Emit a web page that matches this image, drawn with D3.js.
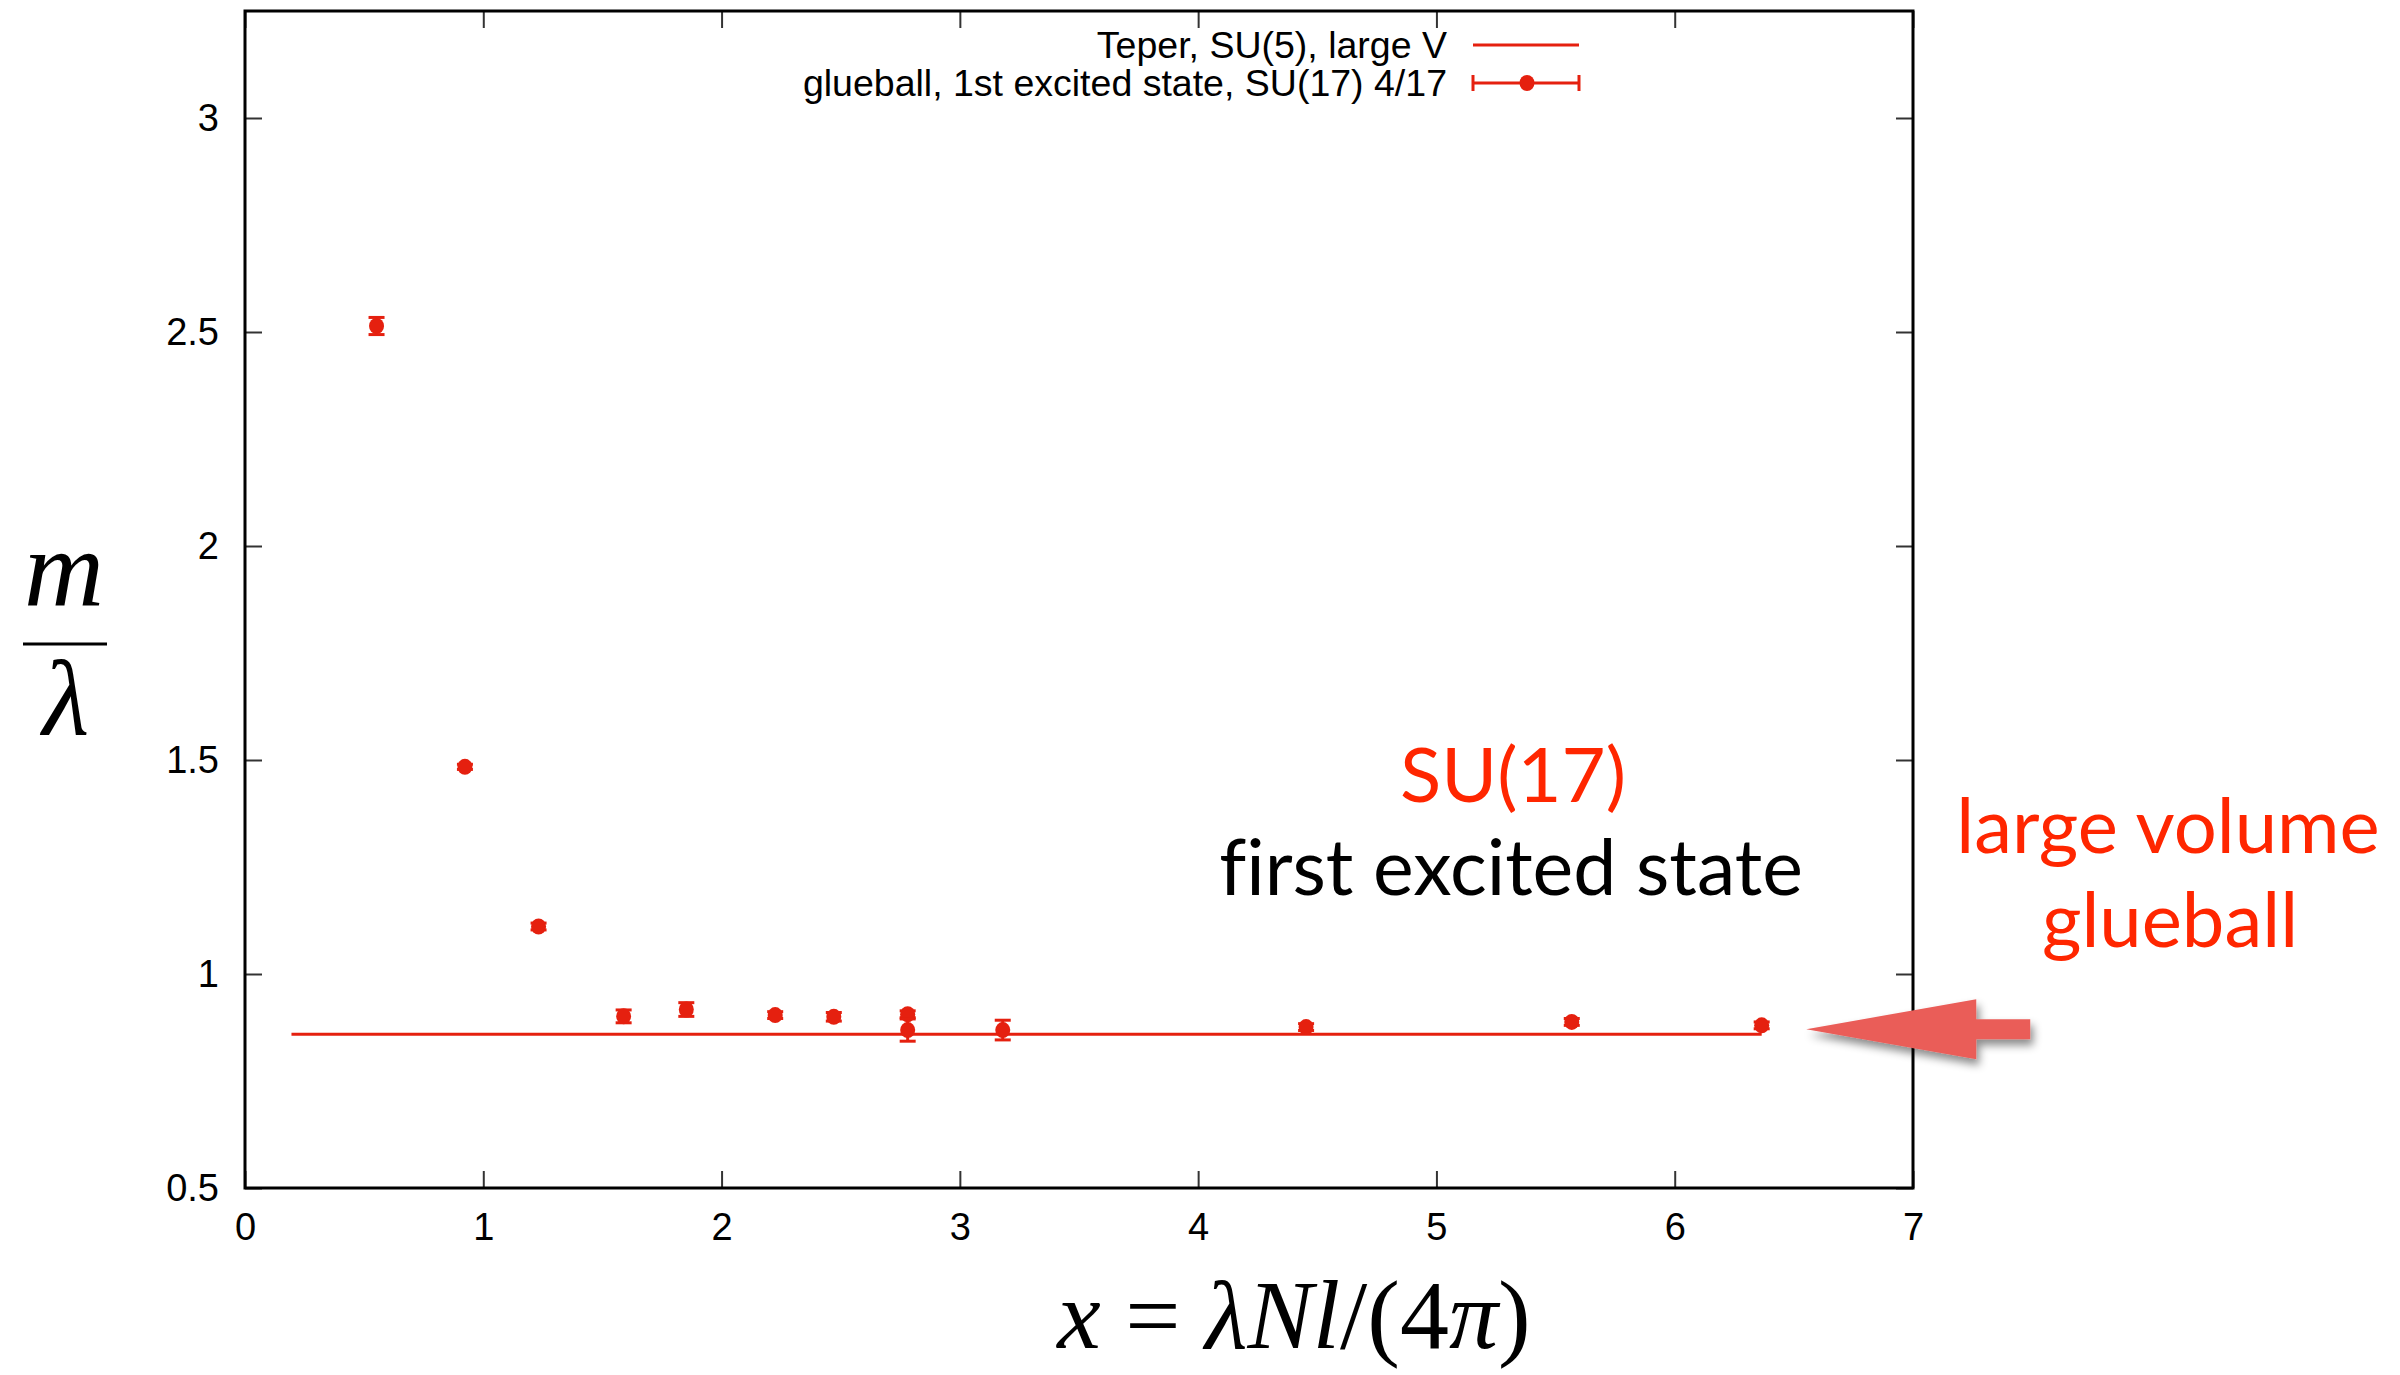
<!DOCTYPE html>
<html>
<head>
<meta charset="utf-8">
<script src="https://cdn.jsdelivr.net/npm/d3@7"></script>
<style>
  body { margin: 0; background: #fff; }
  svg { display: block; }
</style>
</head>
<body>
<script>
// data
var pointX = [0.552, 0.923, 1.232, 1.589, 1.852, 2.225, 2.471, 2.781, 2.781, 3.180, 4.453, 5.568, 6.365];
var pointY = [2.514, 1.484, 1.111, 0.901, 0.917, 0.904, 0.900, 0.906, 0.869, 0.869, 0.876, 0.888, 0.880];
var pointErr = [0.020, 0.006, 0.008, 0.015, 0.016, 0.008, 0.010, 0.008, 0.026, 0.023, 0.008, 0.008, 0.008];

var teperX = [0.195, 6.365];
var teperY = [0.859, 0.859];

var xTicks = [0, 1, 2, 3, 4, 5, 6, 7];
var yTicks = [0.5, 1, 1.5, 2, 2.5, 3];

var legendLabels = ["Teper, SU(5), large V", "glueball, 1st excited state, SU(17) 4/17"];

var svgWidth = 2400;
var svgHeight = 1375;
var margin = { top: 11, left: 245, right: 487, bottom: 187 };
var width = svgWidth - margin.left - margin.right;
var height = svgHeight - margin.top - margin.bottom;

var red = "#e5200f";

var svg = d3.select("body").append("svg")
  .attr("width", svgWidth)
  .attr("height", svgHeight);

var defs = svg.append("defs");
var shadow = defs.append("filter").attr("id", "shadow")
  .attr("x", "-20%").attr("y", "-40%").attr("width", "150%").attr("height", "200%");
shadow.append("feDropShadow")
  .attr("dx", 3).attr("dy", 6).attr("stdDeviation", 4)
  .attr("flood-color", "#000").attr("flood-opacity", 0.45);

var chart = svg.append("g")
  .attr("transform", `translate(${margin.left}, ${margin.top})`);

var x = d3.scaleLinear().domain([0, 7]).range([0, width]);
var y = d3.scaleLinear().domain([0.5, 3.25]).range([height, 0]);

// ticks on all four sides, pointing in
var tickLen = 17;
chart.append("g")
  .attr("transform", `translate(0, ${height})`)
  .call(d3.axisBottom(x).tickValues(xTicks).tickSize(-tickLen).tickPadding(tickLen + 8).tickFormat(d3.format("d")))
  .call(g => g.select(".domain").remove());
chart.append("g")
  .call(d3.axisTop(x).tickValues(xTicks).tickSize(-tickLen).tickFormat(""))
  .call(g => g.select(".domain").remove());
chart.append("g")
  .call(d3.axisLeft(y).tickValues(yTicks).tickSize(-tickLen).tickPadding(tickLen + 9).tickFormat(d => d3.format("")(d)))
  .call(g => g.select(".domain").remove());
chart.append("g")
  .attr("transform", `translate(${width}, 0)`)
  .call(d3.axisRight(y).tickValues(yTicks).tickSize(-tickLen).tickFormat(""))
  .call(g => g.select(".domain").remove());

chart.selectAll(".tick line").attr("stroke", "#333").attr("stroke-width", 2);
chart.selectAll(".tick text")
  .attr("font-family", "Liberation Sans, Arial, sans-serif")
  .attr("font-size", 38)
  .attr("fill", "#000");

// frame
chart.append("rect")
  .attr("width", width).attr("height", height)
  .attr("fill", "none").attr("stroke", "#000").attr("stroke-width", 3);

// Teper line
var line = d3.line().x((d, i) => x(teperX[i])).y(d => y(d));
chart.append("path")
  .datum(teperY)
  .attr("d", line)
  .attr("fill", "none")
  .attr("stroke", red)
  .attr("stroke-width", 3);

// points with error bars
var pts = chart.selectAll(".pt")
  .data(pointX.map((d, i) => ({ x: d, y: pointY[i], e: pointErr[i] })))
  .enter().append("g").attr("class", "pt");

var capW = 8;
pts.append("line")
  .attr("x1", d => x(d.x)).attr("x2", d => x(d.x))
  .attr("y1", d => y(d.y - d.e)).attr("y2", d => y(d.y + d.e))
  .attr("stroke", red).attr("stroke-width", 3);
pts.append("line")
  .attr("x1", d => x(d.x) - capW).attr("x2", d => x(d.x) + capW)
  .attr("y1", d => y(d.y - d.e)).attr("y2", d => y(d.y - d.e))
  .attr("stroke", red).attr("stroke-width", 3);
pts.append("line")
  .attr("x1", d => x(d.x) - capW).attr("x2", d => x(d.x) + capW)
  .attr("y1", d => y(d.y + d.e)).attr("y2", d => y(d.y + d.e))
  .attr("stroke", red).attr("stroke-width", 3);
pts.append("ellipse")
  .attr("cx", d => x(d.x)).attr("cy", d => y(d.y))
  .attr("rx", 7.5).attr("ry", 8)
  .attr("fill", red);

// legend
var legend = svg.append("g").attr("font-family", "Liberation Sans, Arial, sans-serif").attr("font-size", 37.5);
legend.append("text")
  .attr("x", 1447).attr("y", 45).attr("dy", "0.35em")
  .attr("text-anchor", "end").text(legendLabels[0]);
legend.append("line")
  .attr("x1", 1473).attr("x2", 1579).attr("y1", 45).attr("y2", 45)
  .attr("stroke", red).attr("stroke-width", 3);
legend.append("text")
  .attr("x", 1447).attr("y", 83).attr("dy", "0.35em")
  .attr("text-anchor", "end").text(legendLabels[1]);
legend.append("line")
  .attr("x1", 1473).attr("x2", 1579).attr("y1", 83).attr("y2", 83)
  .attr("stroke", red).attr("stroke-width", 3);
[1473, 1579].forEach(function(cx) {
  legend.append("line")
    .attr("x1", cx).attr("x2", cx).attr("y1", 75).attr("y2", 91)
    .attr("stroke", red).attr("stroke-width", 3);
});
legend.append("ellipse")
  .attr("cx", 1527).attr("cy", 83).attr("rx", 7.5).attr("ry", 8).attr("fill", red);

// axis titles
var serif = "Liberation Serif, DejaVu Serif, serif";
var yTitle = svg.append("g").attr("font-family", serif).attr("font-style", "italic");
yTitle.append("text")
  .attr("x", 64).attr("y", 606).attr("text-anchor", "middle")
  .attr("font-size", 110)
  .attr("textLength", 80).attr("lengthAdjust", "spacingAndGlyphs")
  .text("m");
yTitle.append("line")
  .attr("x1", 23).attr("x2", 107).attr("y1", 644).attr("y2", 644)
  .attr("stroke", "#000").attr("stroke-width", 3);
yTitle.append("text")
  .attr("x", 66).attr("y", 735).attr("text-anchor", "middle")
  .attr("font-size", 108).text("λ");

var xTitle = svg.append("text")
  .attr("x", 1294).attr("y", 1348)
  .attr("text-anchor", "middle")
  .attr("font-family", serif)
  .attr("font-size", 98)
  .style("white-space", "pre");
xTitle.append("tspan").attr("font-style", "italic").text("x");
xTitle.append("tspan").text(" = ");
xTitle.append("tspan").attr("font-style", "italic").text("λNl");
xTitle.append("tspan").text("/(4");
xTitle.append("tspan").attr("font-style", "italic").text("π");
xTitle.append("tspan").text(")");

// annotations
var sans = "Lato, Open Sans, sans-serif";
var annot = svg.append("g")
  .attr("font-family", sans).attr("font-size", 76)
  .attr("text-anchor", "middle")
  .style("font-variant-ligatures", "none");
annot.append("text")
  .attr("x", 1513).attr("y", 802).attr("fill", "#ff2600")
  .text("SU(17)");
annot.append("text")
  .attr("x", 1511).attr("y", 895).attr("fill", "#000")
  .attr("font-size", 77)
  .text("first excited state");
annot.append("text")
  .attr("x", 2168).attr("y", 853).attr("fill", "#ff2600")
  .text("large volume");
annot.append("text")
  .attr("x", 2170).attr("y", 947).attr("fill", "#ff2600")
  .text("glueball");

// arrow pointing at the large volume value
var arrowTip = [6.552, 0.871];
var tx = margin.left + x(arrowTip[0]);
var ty = margin.top + y(arrowTip[1]);
var arrowPts = [
  [tx, ty], [tx + 170, ty - 30], [tx + 170, ty - 10], [tx + 224, ty - 10],
  [tx + 224, ty + 10], [tx + 170, ty + 10], [tx + 170, ty + 30]
];
svg.append("polygon")
  .attr("points", arrowPts.map(p => p.join(",")).join(" "))
  .attr("fill", "#ea5d59")
  .attr("filter", "url(#shadow)");
</script>
</body>
</html>
